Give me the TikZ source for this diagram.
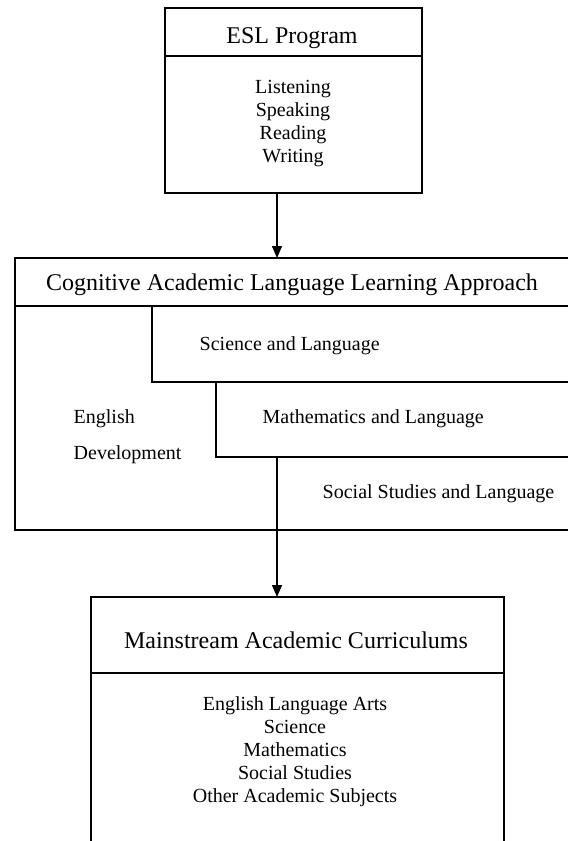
\documentclass[tikz,border=0pt]{standalone}
\usepackage{fontspec}
\setmainfont{Liberation Serif}
\usetikzlibrary{arrows.meta}
\begin{document}
\begin{tikzpicture}[x=1pt,y=-1pt,line width=1.4pt,
  frame/.style={inner sep=0pt,outer sep=0pt},
  ttl/.style={font=\fontsize{24}{28}\selectfont,inner sep=0pt,anchor=base},
  txt/.style={font=\fontsize{20}{23}\selectfont,inner sep=0pt,anchor=base},
  txtl/.style={txt,anchor=base west},
  conn/.style={-{Triangle[length=12pt,width=10pt]},line width=1.4pt}]
\useasboundingbox (0,0) rectangle (568,841);
\coordinate (ax) at (277,0);

% ESL Program box
\node[frame,draw,minimum width=257pt,minimum height=185pt,anchor=north west] (esl) at (165,8) {};
\draw (165,56) -- (422,56);
\node[ttl] (eslt) at (292,43) {ESL Program};
\foreach \t [count=\i] in {Listening,Speaking,Reading,Writing}
  \node[txt] (esl\i) at (293,{70+23*\i}) {\t};

% CALLA box (runs off the right edge)
\node[frame,minimum width=554pt,minimum height=272pt,anchor=north west] (calla) at (15,258) {};
\draw (568,258) -- (15,258) -- (15,530) -- (568,530);
\draw (15,306) -- (568,306);
\node[ttl] (callat) at (292,290) {Cognitive Academic Language Learning Approach};
\draw (152,306) -- (152,382) -- (568,382);
\draw (216,382) -- (216,457) -- (568,457);
\draw (277,457) -- (277,530);
\node[txtl] (sci) at (199,350) {Science and Language};
\node[txtl] (math) at (262,423) {Mathematics and Language};
\node[txtl] (soc) at (322,498) {Social Studies and Language};
\node[txtl] (eng1) at (73,423) {English};
\node[txtl] (eng2) at (73,459) {Development};

% Mainstream box (runs off the bottom edge)
\node[frame,minimum width=413pt,minimum height=250pt,anchor=north west] (main) at (91,597) {};
\draw (91,845) -- (91,597) -- (504,597) -- (504,845);
\draw (91,673) -- (504,673);
\node[ttl] (maint) at (296,648) {Mainstream Academic Curriculums};
\foreach \t [count=\i] in {English Language Arts,Science,Mathematics,Social Studies,Other Academic Subjects}
  \node[txt] (main\i) at (295,{687+23*\i}) {\t};

% connectors
\draw[conn] (esl.south -| ax) -- (calla.north -| ax);
\draw[conn] (calla.south -| ax) -- (main.north -| ax);
\end{tikzpicture}
\end{document}
